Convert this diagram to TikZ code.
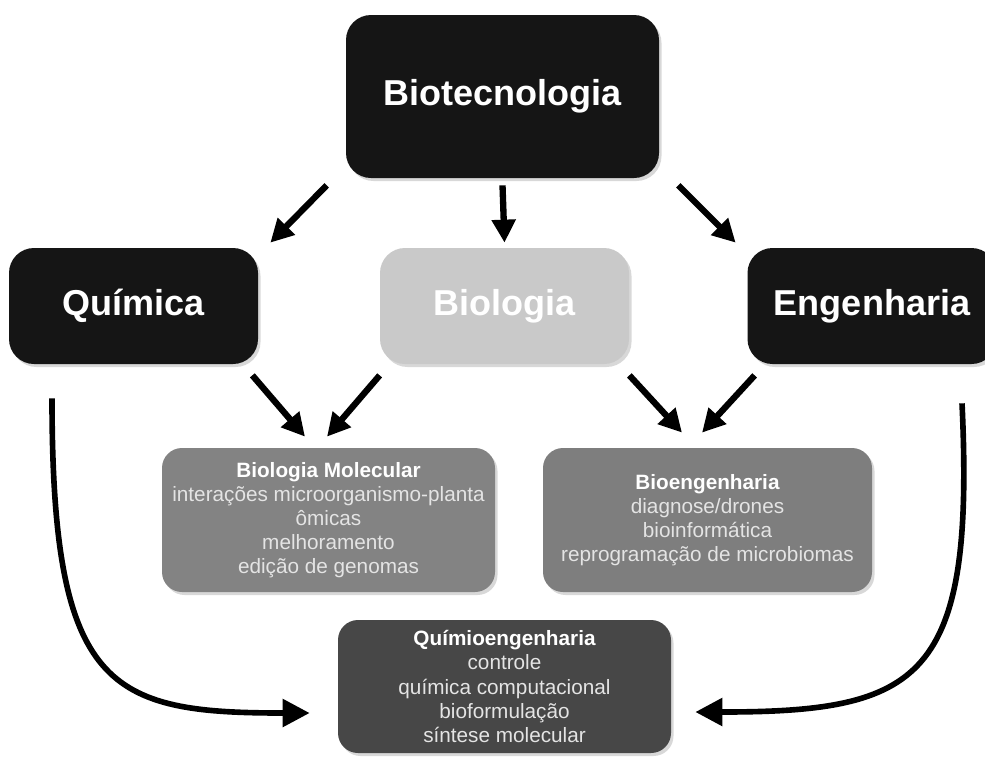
\documentclass[tikz,border=0pt]{standalone}
\usepackage{fontspec}
\setmainfont{Liberation Sans}
\usetikzlibrary{arrows.meta,shadows}

\definecolor{topblack}{HTML}{151515}
\definecolor{biogray}{HTML}{C9C9C9}
\definecolor{molgray}{HTML}{838383}
\definecolor{quimgray}{HTML}{474747}
\definecolor{boxtext}{HTML}{E4E4E4}

\begin{document}
\begin{tikzpicture}[
  bigbox/.style={rounded corners=0.5cm, minimum width=4.98cm, minimum height=2.32cm,
    inner sep=0pt, text=white, font=\fontsize{20.5}{24}\selectfont\bfseries,
    drop shadow={opacity=0.3, shadow xshift=0.05cm, shadow yshift=-0.06cm}},
  smallbox/.style={rounded corners=0.4cm, minimum height=2.88cm, inner sep=0pt,
    align=center, text=boxtext, font=\fontsize{11.8}{13.7}\selectfont,
    drop shadow={opacity=0.3, shadow xshift=0.05cm, shadow yshift=-0.06cm}},
  arr/.style={line width=3.6pt, -{Triangle[length=0.46cm,width=0.46cm]}},
  curvearr/.style={line width=3.2pt, -{Triangle[length=0.54cm,width=0.54cm]}}
]
  \useasboundingbox[fill=white] (0,0) rectangle (19.7,-15.12);

  % Top
  \node[bigbox, minimum width=6.26cm, minimum height=3.26cm, fill=topblack] (biotec) at (10.05,-1.93) {Biotecnologia};

  % Second row
  \node[bigbox, fill=topblack] (quimica) at (2.67,-6.12) {Química};
  \node[bigbox, fill=biogray] (biologia) at (10.09,-6.12) {Biologia};
  \node[bigbox, fill=topblack] (engenharia) at (17.44,-6.12) {Engenharia};

  % Third row
  \node[smallbox, minimum width=6.66cm, fill=molgray] (biomol) at (6.57,-10.4)
    {\textcolor{white}{\bfseries Biologia Molecular}\\ interações microorganismo-planta\\ ômicas\\ melhoramento\\ edição de genomas};
  \node[smallbox, minimum width=6.58cm, fill=molgray!96!black] (bioeng) at (14.15,-10.4)
    {\textcolor{white}{\bfseries Bioengenharia}\\ diagnose/drones\\ bioinformática\\ reprogramação de microbiomas};

  % Bottom
  \node[smallbox, minimum width=6.66cm, minimum height=2.66cm, fill=quimgray] (quimioeng) at (10.09,-13.73)
    {\textcolor{white}{\bfseries Químioengenharia}\\ controle\\ química computacional\\ bioformulação\\ síntese molecular};

  % Biotecnologia -> areas
  \draw[arr] ([shift={(-0.38,-0.14)}]biotec.south west) -- ([shift={(0.24,0.1)}]quimica.north east);
  \draw[arr] ([yshift=-0.14cm]biotec.south) -- ([yshift=0.1cm]biologia.north);
  \draw[arr] ([shift={(0.38,-0.14)}]biotec.south east) -- ([shift={(-0.23,0.1)}]engenharia.north west);

  % areas -> combinations
  \draw[arr] ([shift={(-0.12,-0.22)}]quimica.south east) -- ([shift={(-0.47,0.22)}]biomol.north);
  \draw[arr] ([yshift=-0.22cm]biologia.south west) -- ([shift={(-0.03,0.22)}]biomol.north);
  \draw[arr] ([yshift=-0.22cm]biologia.south east) -- ([shift={(-0.51,0.3)}]bioeng.north);
  \draw[arr] ([shift={(0.15,-0.22)}]engenharia.south west) -- ([shift={(-0.11,0.3)}]bioeng.north);

  % Quimica and Engenharia -> Quimioengenharia
  \draw[curvearr] ([shift={(-1.63,-0.68)}]quimica.south) .. controls +(0,-5.84) and +(-4,0) .. ([shift={(-0.56,-0.53)}]quimioeng.west);
  \draw[curvearr] ([shift={(1.8,-0.78)}]engenharia.south) .. controls +(0.26,-5.54) and +(4.5,0) .. ([shift={(0.48,-0.51)}]quimioeng.east);

\end{tikzpicture}
\end{document}
